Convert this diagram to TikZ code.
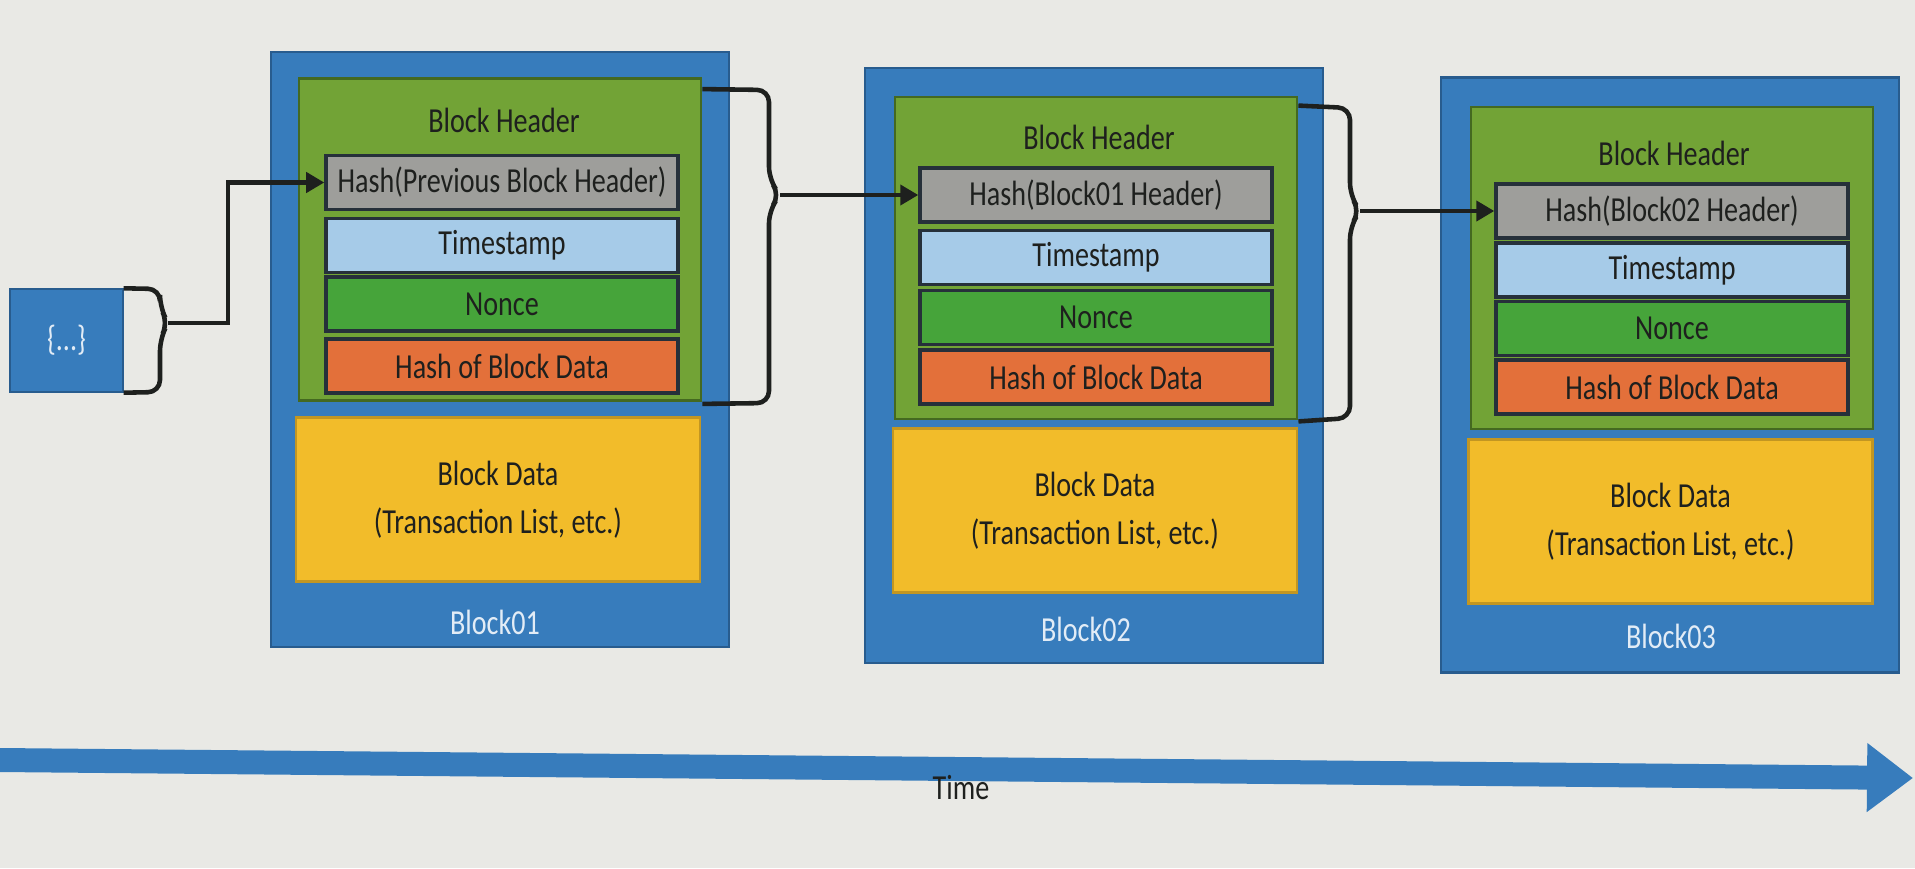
\documentclass[tikz,border=0pt]{standalone}
\usepackage{fontspec}
\setmainfont{Carlito}[FakeStretch=0.8]
\usetikzlibrary{arrows.meta}

\definecolor{paper}{RGB}{233,233,229}
\definecolor{frameblue}{RGB}{55,124,188}
\definecolor{frameedge}{RGB}{40,92,142}
\definecolor{headgreen}{RGB}{114,163,54}
\definecolor{headedge}{RGB}{68,105,32}
\definecolor{hashgray}{RGB}{158,158,155}
\definecolor{stampblue}{RGB}{166,203,232}
\definecolor{noncegreen}{RGB}{70,164,58}
\definecolor{digestorange}{RGB}{227,112,58}
\definecolor{datayellow}{RGB}{242,188,42}
\definecolor{rowedge}{RGB}{38,48,58}
\definecolor{inktext}{RGB}{30,32,30}
\definecolor{labelwhite}{RGB}{226,236,246}

\tikzset{
  blockframe/.style={draw=frameedge, line width=0.6pt, fill=frameblue, minimum width=4.58cm, minimum height=5.95cm, inner sep=0pt},
  headerbox/.style={draw=headedge, line width=0.8pt, fill=headgreen, minimum width=4.02cm, minimum height=3.22cm, inner sep=0pt},
  rowbox/.style={draw=rowedge, line width=1pt, minimum width=3.52cm, minimum height=0.54cm, inner sep=0pt, text=inktext},
  hashrow/.style={rowbox, fill=hashgray},
  stamprow/.style={rowbox, fill=stampblue},
  noncerow/.style={rowbox, fill=noncegreen},
  digestrow/.style={rowbox, fill=digestorange},
  databox/.style={draw=datayellow!80!black, line width=0.6pt, fill=datayellow, minimum width=4.04cm, minimum height=1.64cm, inner sep=0pt, align=center, text=inktext},
  headtitle/.style={text=inktext},
  blocklabel/.style={text=labelwhite},
  link/.style={line width=1.2pt, draw=inktext, -{Triangle[length=0.18cm,width=0.2cm]}},
  bracket/.style={line width=1.3pt, draw=inktext, rounded corners=0.12cm},
  timeline/.style={draw=frameblue, line width=0.24cm, -{Triangle[length=0.46cm,width=0.66cm]}}
}

\begin{document}
\begin{tikzpicture}
\fill[paper] (0,0) rectangle (19.15,8.68);
\useasboundingbox (0,0) rectangle (19.15,8.68);

% earlier block
\node[fill=frameblue, draw=frameedge, minimum width=1.13cm, minimum height=1.03cm, inner sep=0pt, text=labelwhite] (prev) at (0.665,5.275) {\{...\}};

% Block01
\node[blockframe] (blk1) at (5.0,5.185) {};
\node[headerbox] (hd1) at (5.0,6.285) {};
\node[headtitle] (ttl1) at (5.04,7.48) {Block Header};
\node[hashrow] (hp1) at (5.02,6.855) {Hash(Previous Block Header)};
\node[stamprow] (ts1) at (5.02,6.225) {Timestamp};
\node[noncerow] (nc1) at (5.02,5.64) {Nonce};
\node[digestrow] (hb1) at (5.02,5.02) {Hash of Block Data};
\node[databox] (dat1) at (4.98,3.685) {Block Data\\[1.7pt](Transaction List, etc.)};
\node[blocklabel] (lbl1) at (4.95,2.46) {Block01};

% Block02
\node[blockframe] (blk2) at (10.94,5.025) {};
\node[headerbox] (hd2) at (10.96,6.10) {};
\node[headtitle] (ttl2) at (10.99,7.31) {Block Header};
\node[hashrow] (hp2) at (10.96,6.73) {Hash(Block01 Header)};
\node[stamprow] (ts2) at (10.96,6.105) {Timestamp};
\node[noncerow] (nc2) at (10.96,5.505) {Nonce};
\node[digestrow] (hb2) at (10.96,4.91) {Hash of Block Data};
\node[databox] (dat2) at (10.95,3.575) {Block Data\\[1.7pt](Transaction List, etc.)};
\node[blocklabel] (lbl2) at (10.86,2.39) {Block02};

% Block03
\node[blockframe] (blk3) at (16.70,4.93) {};
\node[headerbox] (hd3) at (16.72,6.0) {};
\node[headtitle] (ttl3) at (16.74,7.15) {Block Header};
\node[hashrow] (hp3) at (16.72,6.57) {Hash(Block02 Header)};
\node[stamprow] (ts3) at (16.72,5.98) {Timestamp};
\node[noncerow] (nc3) at (16.72,5.395) {Nonce};
\node[digestrow] (hb3) at (16.72,4.81) {Hash of Block Data};
\node[databox] (dat3) at (16.705,3.465) {Block Data\\[1.7pt](Transaction List, etc.)};
\node[blocklabel] (lbl3) at (16.71,2.32) {Block03};

% braces and links
\coordinate (tip0) at (1.68,5.45);
\coordinate (tip1) at (7.80,6.73);
\coordinate (tip2) at (13.60,6.57);
\draw[bracket] (prev.north east) -- (1.60,5.79) -- (1.60,5.61) -- (tip0) -- (1.60,5.29) -- (1.60,4.76) -- (prev.south east);
\draw[link] (tip0) -- (2.28,5.45) |- (hp1.west);
\draw[bracket] ([yshift=-0.12cm]hd1.north east) -- (7.69,7.78) -- (7.69,6.89) -- (tip1) -- (7.69,6.57) -- (7.69,4.65) -- ([yshift=-0.02cm]hd1.south east);
\draw[link] (tip1) -- (hp2.west);
\draw[bracket] ([yshift=-0.1cm]hd2.north east) -- (13.50,7.60) -- (13.50,6.73) -- (tip2) -- (13.50,6.41) -- (13.50,4.50) -- ([yshift=-0.01cm]hd2.south east);
\draw[link] (tip2) -- (hp3.west);

% time axis
\coordinate (tstart) at (0,1.08);
\coordinate (tend) at (19.13,0.90);
\draw[timeline] (tstart) -- (tend);
\node[text=inktext] (tlabel) at (9.61,0.80) {Time};
\end{tikzpicture}
\end{document}
